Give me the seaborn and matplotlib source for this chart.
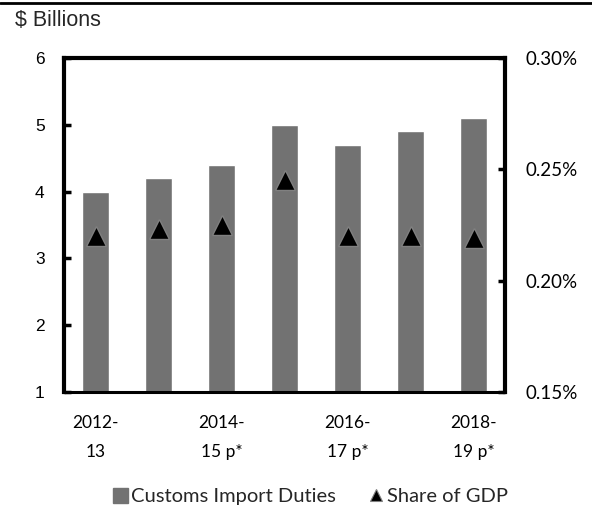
import matplotlib
matplotlib.use("Agg")
import matplotlib.pyplot as plt
import seaborn as sns
import pandas as pd
from matplotlib.lines import Line2D

categories = ["2012-13", "2013-14", "2014-15 p*", "2015-16 p*", "2016-17 p*", "2017-18 p*", "2018-19 p*"]
duties = [4.0, 4.2, 4.4, 5.0, 4.7, 4.9, 5.1]
share_gdp = [0.220, 0.223, 0.225, 0.245, 0.220, 0.220, 0.219]
tick_labels = ["2012-\n13", "", "2014-\n15 p*", "", "2016-\n17 p*", "", "2018-\n19 p*"]
left_ticks = [1, 2, 3, 4, 5, 6]
right_ticks = [0.15, 0.20, 0.25, 0.30]
legend_labels = ["Customs Import Duties", "Share of GDP"]

df = pd.DataFrame({"year": categories, "duties": duties, "share": share_gdp})

sns.set_theme(style="white")
plt.rcParams["font.family"] = ["Liberation Sans", "DejaVu Sans"]
calib = ["Lato", "DejaVu Sans"]

W, H = 592, 507
fig = plt.figure(figsize=(W / 100, H / 100), dpi=100)
ax = fig.add_axes([64 / W, 1 - 392 / H, (505 - 64) / W, (392 - 58) / H])

bar_color = "#727272"
sns.barplot(data=df, x="year", y="duties", color=bar_color, saturation=1,
            width=0.42, ax=ax)
ax2 = ax.twinx()
sns.pointplot(data=df, x="year", y="share", linestyle="none", markers="^",
              color="black", ax=ax2)
for ln in ax2.lines:
    ln.set_markersize(15)
    ln.set_markeredgecolor("#808080")
    ln.set_markeredgewidth(1)
    ln.set_markerfacecolor("black")

ax.set_xlim(-0.5, len(categories) - 0.5)
ax.set_ylim(1, 6)
ax2.set_ylim(0.15, 0.30)
ax.set_yticks(left_ticks)
ax.set_yticklabels([str(t) for t in left_ticks], fontsize=12.5)
ax2.set_yticks(right_ticks)
ax2.set_yticklabels([f"{t:.2f}%" for t in right_ticks], fontsize=13.5, family=calib)
ax.set_xticks(range(len(categories)))
ax.set_xticklabels(tick_labels, fontsize=12.5, family=calib, linespacing=2.0)
ax.set_xlabel("")
ax.set_ylabel("")
ax2.set_ylabel("")

for s in ["left", "top", "bottom"]:
    ax.spines[s].set_visible(True)
    ax.spines[s].set_color("black")
    ax.spines[s].set_linewidth(3)
ax.spines["bottom"].set_linewidth(2.2)
ax.spines["right"].set_visible(False)
for s in ["left", "top", "bottom"]:
    ax2.spines[s].set_visible(False)
ax2.spines["right"].set_visible(True)
ax2.spines["right"].set_color("black")
ax2.spines["right"].set_linewidth(3)

ax.tick_params(axis="y", direction="in", length=5, width=2.5, pad=14, colors="black", left=True)
ax.tick_params(axis="x", length=0, pad=16.5, colors="black")
ax2.tick_params(axis="y", direction="in", length=5, width=2.5, pad=15, colors="black", right=True)

fig.text(15 / W, 1 - 20 / H, "$ Billions", fontsize=15.5, va="center", ha="left")
fig.add_artist(Line2D([0, 1], [1 - 3 / H] * 2, transform=fig.transFigure,
                      color="black", lw=2))

handles = [
    Line2D([], [], linestyle="none", marker="s", markersize=10.8, color=bar_color),
    Line2D([], [], linestyle="none", marker="^", markersize=8, color="black",
           markeredgecolor="#808080", markeredgewidth=0.8),
]
fig.legend(handles, legend_labels, loc="center", bbox_to_anchor=(310 / W, 1 - 496 / H),
           ncol=2, frameon=False, prop={"family": calib, "size": 14.5},
           handletextpad=0.17, columnspacing=1.57, handlelength=0.8, borderpad=0.2)

fig.savefig("out.png", dpi=100, facecolor="white")
